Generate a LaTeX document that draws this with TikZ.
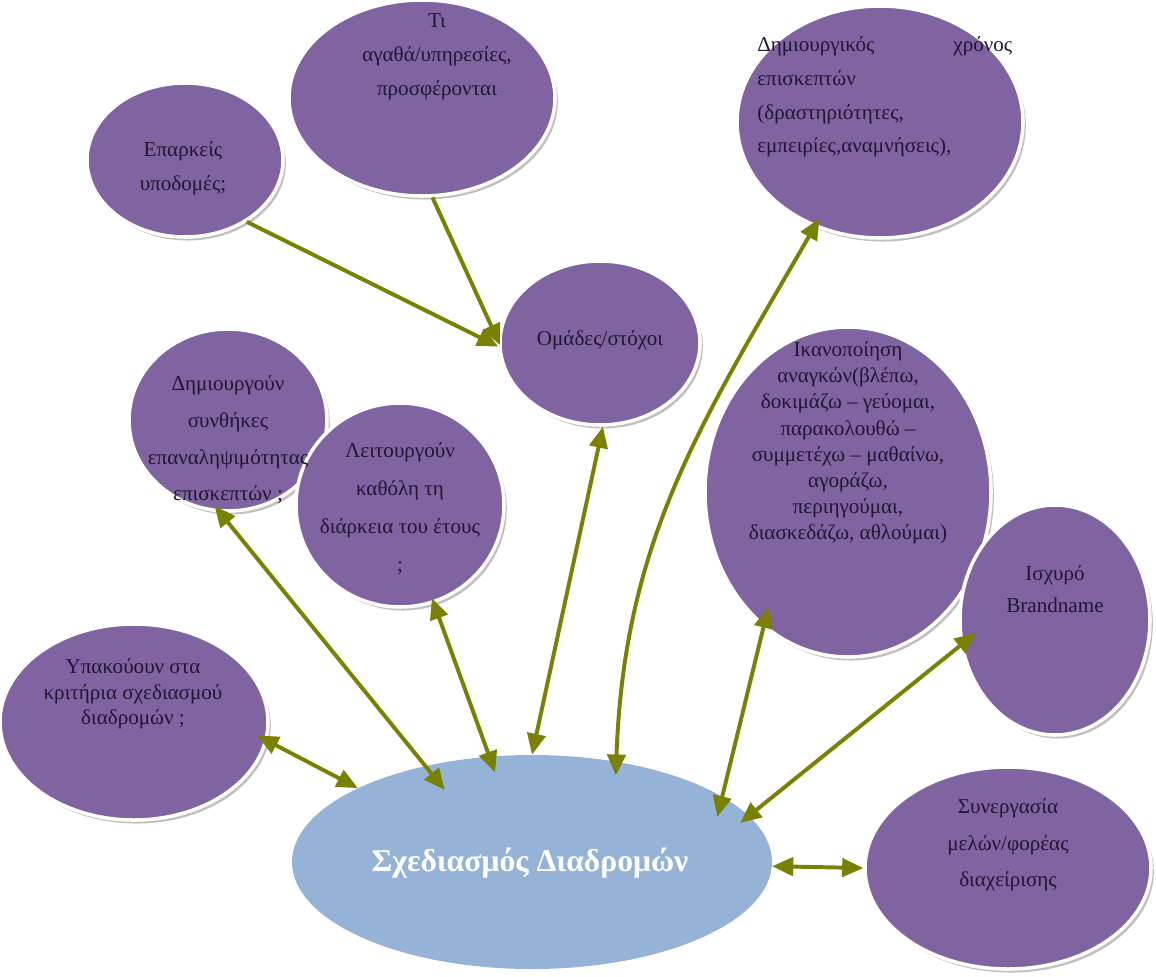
\documentclass[tikz,border=0pt]{standalone}
\usepackage{fontspec}
\setmainfont{Liberation Serif}
\usetikzlibrary{shapes.geometric,arrows.meta,shadows}
\definecolor{bubblepurple}{RGB}{128,100,162}
\definecolor{hubblue}{RGB}{149,179,215}
\definecolor{linkolive}{RGB}{122,128,0}
\definecolor{inkdark}{RGB}{32,22,48}
\newlength\pxu
\setlength\pxu{0.025cm}
\tikzset{
  bubble/.style={ellipse, fill=bubblepurple, draw=white, line width=2.5pt, inner sep=0pt,
    drop shadow={shadow xshift=2pt, shadow yshift=-2.5pt, opacity=0.45, fill=black!55}},
  hub/.style={ellipse, fill=hubblue, inner sep=0pt},
  bubbletext/.style={text=inkdark, align=center, inner sep=0pt, font=\fontsize{15}{24}\selectfont},
  tighttext/.style={text=inkdark, align=center, inner sep=0pt, font=\fontsize{15}{18}\selectfont},
  hubtext/.style={text=white, inner sep=0pt, font=\fontsize{22.5}{26}\selectfont\bfseries},
  link/.style={draw=linkolive, line width=2.8pt, -{Triangle[length=15pt,width=13pt]}},
  twoway/.style={draw=linkolive, line width=2.8pt, {Triangle[length=15pt,width=13pt]}-{Triangle[length=15pt,width=13pt]}},
}
\begin{document}
\begin{tikzpicture}[x=\pxu, y=-\pxu]
\useasboundingbox (0,0) rectangle (1156,976);
% purple bubbles
\node[bubble, minimum width=196\pxu, minimum height=154\pxu] (infra) at (185,160) {};
\node[bubble, minimum width=266\pxu, minimum height=196\pxu] (goods) at (422,98) {};
\node[bubble, minimum width=286\pxu, minimum height=232\pxu] (visittime) at (880,122) {};
\node[bubble, minimum width=200\pxu, minimum height=164\pxu] (groups) at (600,343) {};
\node[bubble, minimum width=198\pxu, minimum height=182\pxu] (repeatv) at (228,420) {};
\node[bubble, minimum width=208\pxu, minimum height=204\pxu] (yearround) at (400,505) {};
\node[bubble, minimum width=286\pxu, minimum height=330\pxu] (needs) at (848,492) {};
\node[bubble, minimum width=190\pxu, minimum height=230\pxu] (brand) at (1055,620) {};
\node[bubble, minimum width=268\pxu, minimum height=196\pxu] (criteria) at (134,722) {};
\node[bubble, minimum width=286\pxu, minimum height=202\pxu] (partners) at (1008,868) {};
% central ellipse
\node[hub, minimum width=480\pxu, minimum height=214\pxu] (routes) at (532,862) {};

% texts
\node[bubbletext] (infra-t) at (183,168) {Επαρκείς\\υποδομές;};
\node[bubbletext] (goods-t) at (437,57) {Τι\\αγαθά/υπηρεσίες,\\προσφέρονται};
\node[bubbletext, text width=255\pxu, align=left, anchor=west] (visittime-t) at (757,97)
  {Δημιουργικός\hfill χρόνος\\επισκεπτών\\(δραστηριότητες,\\εμπειρίες,αναμνήσεις),};
\node[bubbletext] (groups-t) at (600,340) {Ομάδες/στόχοι};
\node[bubbletext, font=\fontsize{15}{26}\selectfont] (repeatv-t) at (228,440) {Δημιουργούν\\συνθήκες\\επαναληψιμότητας\\επισκεπτών ;};
\node[bubbletext, font=\fontsize{15}{27}\selectfont] (yearround-t) at (400,509) {Λειτουργούν\\καθόλη τη\\διάρκεια του έτους\\;};
\node[tighttext, font=\fontsize{15}{18.6}\selectfont] (needs-t) at (848,443) {Ικανοποίηση\\αναγκών(βλέπω,\\δοκιμάζω – γεύομαι,\\παρακολουθώ –\\συμμετέχω – μαθαίνω,\\αγοράζω,\\περιηγούμαι,\\διασκεδάζω, αθλούμαι)};
\node[bubbletext, font=\fontsize{15}{22.5}\selectfont] (brand-t) at (1055,589) {Ισχυρό\\Brandname};
\node[tighttext] (criteria-t) at (133,694) {Υπακούουν στα\\κριτήρια σχεδιασμού\\διαδρομών ;};
\node[bubbletext, font=\fontsize{15}{26}\selectfont] (partners-t) at (1008,845) {Συνεργασία\\μελών/φορέας\\διαχείρισης};
\node[hubtext] (routes-t) at (530,863) {Σχεδιασμός Διαδρομών};

% links
\draw[link] (infra.-45) -- (groups.182);
\draw[link, shorten >=-3pt] (goods.-84) -- (groups.179);
\draw[twoway, shorten <=-8pt] (criteria.-8) -- (routes.157);
\draw[twoway, shorten <=-6pt, shorten >=-22pt] (repeatv.-95) -- (routes.138);
\draw[twoway, shorten <=-4pt, shorten >=-12pt] (yearround.-71) -- (routes.112);
\draw[twoway] (groups.-88) -- (routes.90);
\draw[twoway, shorten <=-10pt, shorten >=-7pt] (routes.50) to[out=88, in=240] (visittime.-122);
\draw[twoway, shorten <=-15pt, shorten >=-15pt] (needs.-122) -- (routes.19);
\draw[twoway, shorten <=-14pt, shorten >=-8pt] (brand.-165) -- (routes.12);
\draw[twoway] (routes.-1) -- (partners.180);
\end{tikzpicture}
\end{document}
